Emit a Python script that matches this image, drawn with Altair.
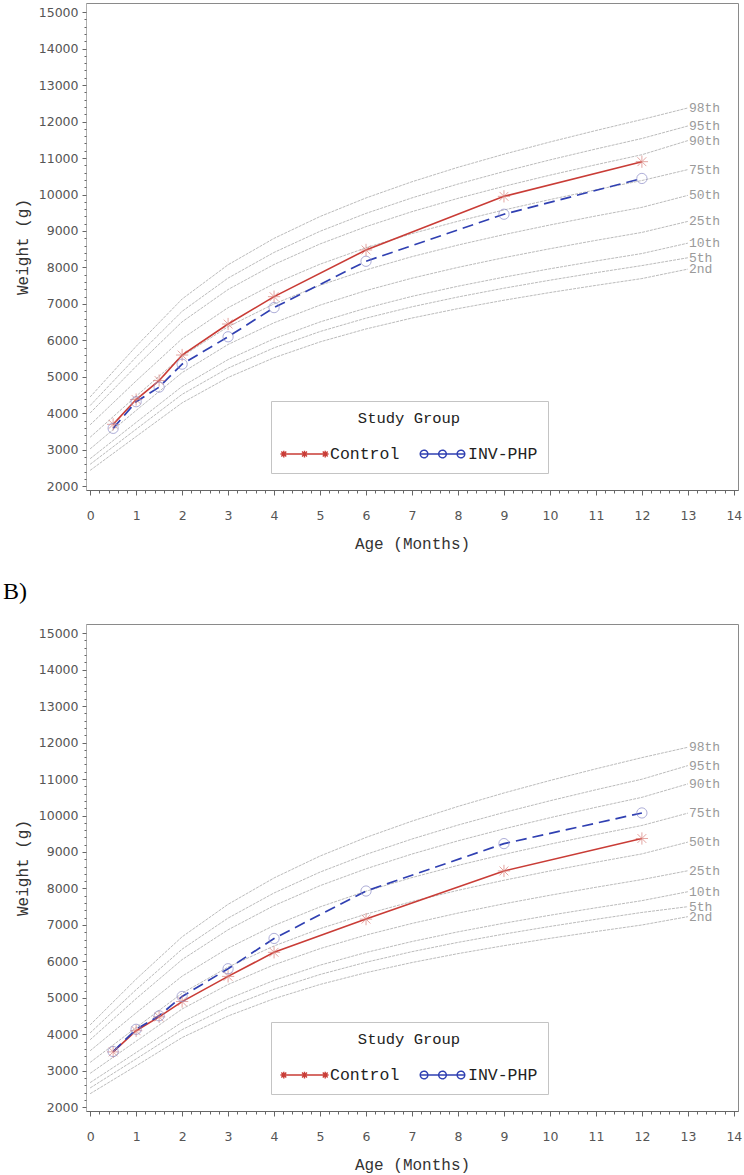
import altair as alt
import pandas as pd

# ---------------------------------------------------------------- data
pct_names = ["98th", "95th", "90th", "75th", "50th", "25th", "10th", "5th", "2nd"]
curve_months = [0, 1, 2, 3, 4, 5, 6, 7, 8, 9, 10, 11, 12]
label_month = 13

# Panel A reference centiles, weight-for-age (g)
a_curves = {
    "98th": [4451, 5838, 7136, 8074, 8798, 9397, 9906, 10350, 10746, 11105, 11440, 11754, 12056],
    "95th": [4215, 5543, 6798, 7709, 8413, 8992, 9483, 9908, 10287, 10630, 10949, 11248, 11536],
    "90th": [4012, 5291, 6510, 7396, 8082, 8645, 9119, 9531, 9895, 10225, 10530, 10817, 11091],
    "75th": [3687, 4889, 6048, 6898, 7555, 8090, 8540, 8928, 9268, 9576, 9862, 10129, 10384],
    "50th": [3346, 4471, 5568, 6376, 7002, 7511, 7934, 8297, 8615, 8901, 9165, 9412, 9648],
    "25th": [3027, 4081, 5118, 5889, 6485, 6968, 7367, 7707, 8003, 8269, 8514, 8743, 8961],
    "10th": [2758, 3752, 4739, 5475, 6047, 6507, 6886, 7208, 7486, 7735, 7964, 8178, 8382],
    "5th":  [2604, 3566, 4522, 5240, 5798, 6244, 6611, 6922, 7191, 7432, 7651, 7857, 8052],
    "2nd":  [2438, 3365, 4289, 4985, 5526, 5960, 6315, 6614, 6872, 7102, 7313, 7509, 7696],
}
a_label_y = [12373, 11879, 11478, 10683, 9977, 9263, 8667, 8266, 7955]

# Panel B reference centiles, weight-for-age (g)
b_curves = {
    "98th": [4260, 5514, 6675, 7566, 8289, 8889, 9399, 9846, 10249, 10618, 10960, 11280, 11587],
    "95th": [4041, 5225, 6337, 7188, 7877, 8449, 8933, 9356, 9738, 10084, 10404, 10706, 10995],
    "90th": [3853, 4980, 6050, 6868, 7530, 8077, 8540, 8944, 9306, 9635, 9939, 10225, 10498],
    "75th": [3551, 4590, 5596, 6364, 6985, 7495, 7925, 8299, 8633, 8935, 9214, 9476, 9727],
    "50th": [3232, 4187, 5128, 5846, 6424, 6899, 7297, 7642, 7949, 8225, 8480, 8719, 8948],
    "25th": [2932, 3814, 4696, 5368, 5908, 6351, 6723, 7042, 7325, 7580, 7814, 8033, 8244],
    "10th": [2678, 3502, 4335, 4971, 5480, 5898, 6246, 6546, 6811, 7048, 7266, 7470, 7666],
    "5th":  [2532, 3326, 4131, 4746, 5238, 5642, 5978, 6268, 6522, 6750, 6959, 7155, 7343],
    "2nd":  [2374, 3137, 3913, 4505, 4979, 5369, 5692, 5970, 6214, 6432, 6633, 6820, 6999],
}
b_label_y = [11871, 11368, 10867, 10065, 9271, 8486, 7911, 7501, 7227]

visit_months = [0.5, 1, 1.5, 2, 3, 4, 6, 9, 12]
a_control = [3700, 4380, 4900, 5600, 6450, 7200, 8480, 9950, 10900]
a_invphp = [3590, 4320, 4720, 5350, 6100, 6900, 8170, 9460, 10440]
b_control = [3520, 4100, 4480, 4900, 5590, 6250, 7160, 8480, 9370]
b_invphp = [3530, 4140, 4510, 5040, 5800, 6630, 7930, 9230, 10070]

groups = ["Control", "INV-PHP"]
x_major = list(range(0, 15))
x_minor = [round(i * 0.2, 1) for i in range(0, 71)]
y_major = list(range(2000, 15001, 1000))
y_minor = list(range(2000, 15001, 200))

# ---------------------------------------------------------------- style
MONO = "Liberation Mono"
SANS = "DejaVu Sans"
RED = "#c93c36"
BLUE = "#3040b2"
W, H = 652, 487
X_DOM = [-0.09, 14.09]
Y_DOM = [1900, 15250]


def asterisk(cx, r):
    d = r * 0.72
    return (f"M{cx},{-r}V{r}M{cx - r},0H{cx + r}"
            f"M{cx - d},{-d}L{cx + d},{d}M{cx - d},{d}L{cx + d},{-d}")


def ring(cx, r):
    return f"M{cx + r},0A{r},{r} 0 1,0 {cx - r},0A{r},{r} 0 1,0 {cx + r},0"


# legend keys: a short line with three markers on it (unit box -1..1)
key_control = "M-1,0H1" + "".join(asterisk(c, 0.15) for c in (-0.92, 0, 0.92))
key_inv = "M-1,0H1" + "".join(ring(c, 0.17) for c in (-0.82, 0, 0.82))
key_expr = f"datum.value === 'Control' ? '{key_control}' : '{key_inv}'"
marker_star = asterisk(0, 1)


def panel(curves, label_y, control, invphp, title=None):
    curve_rows = []
    for name, lab in zip(pct_names, label_y):
        for m, v in zip(curve_months, curves[name]):
            curve_rows.append({"month": m, "weight": v, "pct": name})
        curve_rows.append({"month": label_month, "weight": lab, "pct": name})
    curve_df = pd.DataFrame(curve_rows)
    label_df = pd.DataFrame({"month": [label_month] * len(pct_names),
                             "weight": label_y, "pct": pct_names})
    pts_df = pd.DataFrame({
        "month": visit_months * 2,
        "weight": control + invphp,
        "group": ["Control"] * len(control) + ["INV-PHP"] * len(invphp),
    })
    anchor_df = pd.DataFrame({"month": [0.0], "weight": [2000]})

    xs = alt.Scale(domain=X_DOM, nice=False, zero=False)
    ys = alt.Scale(domain=Y_DOM, nice=False, zero=False)
    X = lambda: alt.X("month:Q", scale=xs, axis=None)
    Y = lambda: alt.Y("weight:Q", scale=ys, axis=None)

    x_axis = alt.Axis(values=x_major, title="Age (Months)", orient="bottom", tickSize=5,
                      labelPadding=14, titlePadding=14, grid=False, format="d")
    y_axis = alt.Axis(values=y_major, title="Weight (g)", orient="left", tickSize=4,
                      labelPadding=4, titlePadding=8, grid=False, format="d",
                      domainColor="#b0b0b0")

    curves_layer = alt.Chart(curve_df).mark_line(
        color="#b3b3b3", strokeWidth=0.9, strokeDash=[3, 1]
    ).encode(
        x=alt.X("month:Q", scale=xs, axis=x_axis),
        y=alt.Y("weight:Q", scale=ys, axis=y_axis),
        detail="pct:N",
        order="month:Q",
    )

    # second set of axes carrying the minor ticks only
    minor_layer = alt.Chart(anchor_df).mark_point(opacity=0).encode(
        x=alt.X("month:Q", scale=xs,
                axis=alt.Axis(values=x_minor, labels=False, title=None, domain=False,
                              tickSize=3, orient="bottom", grid=False)),
        y=alt.Y("weight:Q", scale=ys,
                axis=alt.Axis(values=y_minor, labels=False, title=None, domain=False,
                              tickSize=2, orient="left", grid=False)),
    )

    labels_layer = alt.Chart(label_df).mark_text(
        align="left", baseline="middle", dx=1, font=MONO, fontSize=13, color="#9a9a9a"
    ).encode(x=X(), y=Y(), text="pct:N")

    legend = alt.Legend(
        title="Study Group", orient="none", legendX=185, legendY=398,
        direction="horizontal", titleAnchor="middle", titleFont=MONO, titleFontSize=15.5,
        titleFontWeight="normal", titleColor="#222", titlePadding=4,
        labelFont=MONO, labelFontSize=16.5, labelColor="#222", labelOffset=2,
        symbolType=alt.ExprRef(expr=key_expr), symbolSize=2025, symbolStrokeWidth=1.4,
        symbolDash=[1, 0], columnPadding=17, padding=10, strokeColor="#c4c4c4", fillColor="white",
    )
    color = alt.Color("group:N", scale=alt.Scale(domain=groups, range=[RED, BLUE]), legend=legend)

    ctrl_line = alt.Chart(pts_df).transform_filter("datum.group === 'Control'").mark_line(
        strokeWidth=1.6
    ).encode(x=X(), y=Y(), color=color, order="month:Q")
    inv_line = alt.Chart(pts_df).transform_filter("datum.group === 'INV-PHP'").mark_line(
        strokeWidth=1.7, strokeDash=[11, 6]
    ).encode(x=X(), y=Y(), color=color, order="month:Q")

    ctrl_marks = alt.Chart(pts_df).transform_filter("datum.group === 'Control'").mark_point(
        shape=marker_star, size=150, stroke="#d9807a", strokeWidth=1, filled=False
    ).encode(x=X(), y=Y())

    inv_marks = alt.Chart(pts_df).transform_filter("datum.group === 'INV-PHP'").mark_point(
        shape="circle", size=105, stroke="#8c8cc8", strokeWidth=1, filled=False
    ).encode(x=X(), y=Y())

    props = dict(width=W, height=H)
    if title:
        props["title"] = alt.Title(title, anchor="start", frame="group", dx=-83, offset=20,
                                   font="Liberation Serif", fontSize=24, fontWeight="normal",
                                   color="#000")
    return alt.layer(curves_layer, minor_layer, labels_layer, ctrl_line, inv_line, ctrl_marks, inv_marks
                     ).resolve_axis(x="independent", y="independent").properties(**props)


top = panel(a_curves, a_label_y, a_control, a_invphp)
bottom = panel(b_curves, b_label_y, b_control, b_invphp, title="B)")

chart = alt.vconcat(top, bottom, spacing=134, bounds="flush").resolve_scale(
    color="independent"
).resolve_legend(color="independent").properties(
    padding={"left": 2, "top": 2, "right": 0, "bottom": 2}
).configure_view(stroke="#8a8a8a", strokeWidth=1).configure_axis(
    labelFont=SANS, labelFontSize=12.5, labelColor="#555", tickColor="#666",
    domainColor="#666", titleFont=MONO, titleFontSize=16, titleFontWeight="normal", titleColor="#333",
)

chart.save("out.html", embed_options={"renderer": "svg", "actions": False})
